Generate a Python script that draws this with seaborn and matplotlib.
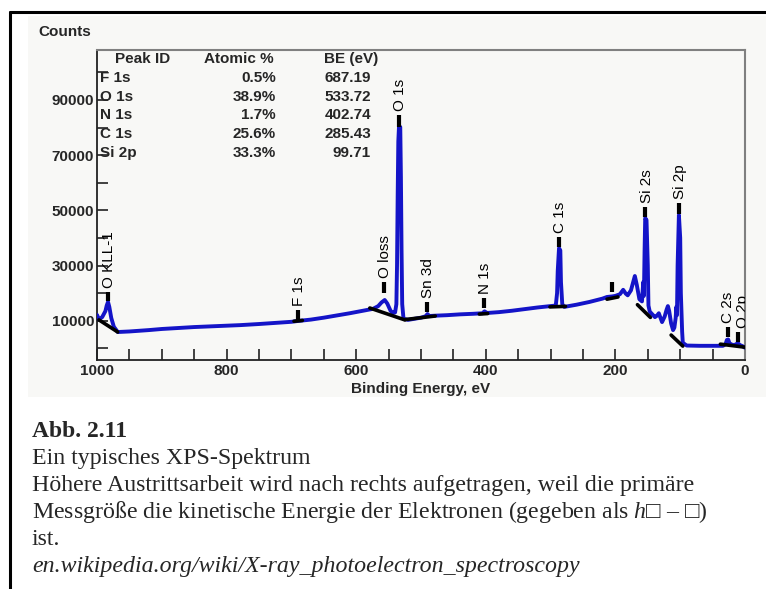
import matplotlib
matplotlib.use("Agg")
import matplotlib.pyplot as plt
from matplotlib.lines import Line2D
from matplotlib.patches import Rectangle
import seaborn as sns
import pandas as pd

# ---------------- data ----------------
binding_energy = [1000, 997, 992, 987, 985, 983, 981, 978, 974, 968, 950, 920, 900, 870, 850, 820, 800, 779,
                  750, 720, 700, 690, 670, 650, 630, 610, 590, 574, 566, 561, 556, 552, 547, 543, 540, 538,
                  537, 536, 535, 534, 532, 531, 530, 529, 527, 520, 510, 500, 493, 490, 487, 480, 460, 440,
                  420, 405, 402, 398, 380, 360, 340, 320, 301, 292, 290, 289, 287, 285, 284, 282, 279, 260,
                  240, 220, 213, 205, 200, 193, 188, 184, 181, 176, 172, 170, 167, 163, 159, 157, 156, 155,
                  154, 152, 150, 149, 147, 143, 139, 136, 133, 130, 128, 124, 121, 119, 117, 114, 111, 109,
                  107, 106, 105, 104, 102, 100, 99, 97, 96, 90, 70, 50, 34, 30, 28, 26, 24, 19, 15, 11, 8,
                  4, 0]
counts = [12100, 10500, 11300, 13500, 15500, 16800, 15000, 11000, 7800, 5900, 6100, 6600, 7000, 7400, 7700,
          8000, 8200, 8400, 8800, 9300, 9600, 9900, 10400, 11100, 11900, 12700, 13600, 14300, 15300, 16600,
          17500, 16200, 13600, 12800, 13000, 16000, 30000, 55000, 75000, 80200, 80200, 62000, 35000, 16000,
          10700, 10300, 10700, 11100, 11600, 12400, 11700, 11800, 12000, 12300, 12500, 12700, 13400, 12800,
          13100, 13600, 14200, 14800, 15300, 15500, 20000, 28000, 36300, 35500, 24000, 16000, 15000, 15800,
          16800, 18000, 18600, 18800, 19000, 19600, 21200, 19800, 19200, 21000, 24500, 26200, 23000, 17800,
          17000, 24000, 19000, 35000, 47200, 46500, 30000, 15500, 13300, 12300, 11300, 11800, 12700, 10800,
          9500, 11500, 14000, 15300, 13500, 9000, 6600, 7500, 11000, 15000, 12000, 30000, 48300, 40000,
          20000, 6000, 2000, 1000, 900, 900, 900, 1500, 3000, 3200, 1800, 1200, 1300, 1900, 1200, 800, 200]

# background (black) segments: segment id, BE, counts
bg_segment = [1, 1, 2, 2, 3, 3, 4, 4, 5, 5, 6, 6, 7, 7, 8, 8, 9, 9, 10, 10]
bg_energy = [997, 968, 696, 683, 579, 525, 525, 478, 410, 397, 301, 277, 213, 196, 166, 146, 114, 96, 38, 0]
bg_counts = [10300, 5900, 9800, 10100, 14600, 10300, 10400, 11700, 12400, 12600, 15000, 15200, 17800, 18600,
             15800, 11200, 4800, 800, 1500, 400]

# peak markers
peak_labels = ["O KLL-1", "F 1s", "O loss", "O 1s", "Sn 3d", "N 1s", "C 1s", "", "Si 2s", "Si 2p", "C 2s", "O 2p"]
peak_energy = [983, 690, 557, 534, 491, 403, 287, 205, 154, 102, 27, 11]
peak_low = [17100, 10250, 20000, 80200, 13100, 14600, 36700, 20400, 47600, 48700, 4100, 2300]
peak_high = [20400, 13900, 24000, 84500, 16800, 18200, 40300, 24000, 51100, 52600, 7700, 5900]

# quantification table
table_header = ["Peak ID", "Atomic %", "BE (eV)"]
table_peaks = ["F 1s", "O 1s", "N 1s", "C 1s", "Si 2p"]
table_atomic = ["0.5%", "38.9%", "1.7%", "25.6%", "33.3%"]
table_be = ["687.19", "533.72", "402.74", "285.43", "99.71"]

x_major = [1000, 800, 600, 400, 200, 0]
y_major = [10000, 30000, 50000, 70000, 90000]

caption_title = "Abb. 2.11"
caption_lines = ["Ein typisches XPS-Spektrum",
                 "Höhere Austrittsarbeit wird nach rechts aufgetragen, weil die primäre",
                 "Messgröße die kinetische Energie der Elektronen (gegeben als $h$□ – □)",
                 "ist."]
caption_source = "en.wikipedia.org/wiki/X-ray_photoelectron_spectroscopy"

# ---------------- style ----------------
sns.set_style("white")
plt.rcParams['font.family'] = ['Liberation Sans', 'DejaVu Sans']
plt.rcParams['mathtext.fontset'] = 'custom'
plt.rcParams['mathtext.rm'] = 'Liberation Serif'
plt.rcParams['mathtext.it'] = 'Liberation Serif:italic'

W, H = 766, 589
fig = plt.figure(figsize=(W / 100, H / 100), dpi=100)
fig.patch.set_facecolor('white')

def fx(px):
    return px / W

def fy(py):
    return 1 - py / H

# faint screenshot background
fig.add_artist(Rectangle((fx(28), fy(397)), fx(766) - fx(28), fy(16) - fy(397),
                         transform=fig.transFigure, facecolor='#f8f8f6', edgecolor='none', zorder=0))

ax = fig.add_axes([fx(97), fy(360), fx(745) - fx(97), fy(50) - fy(360)])
ax.set_facecolor('none')

spec = pd.DataFrame({"BE": binding_energy, "Counts": counts})
sns.lineplot(data=spec, x="BE", y="Counts", ax=ax, color='#1414c8', lw=2.8, sort=False,
             estimator=None, zorder=3)

bg = pd.DataFrame({"seg": bg_segment, "BE": bg_energy, "Counts": bg_counts})
sns.lineplot(data=bg, x="BE", y="Counts", units="seg", estimator=None, ax=ax, color='black',
             lw=2.6, sort=False, zorder=4, legend=False)

ax.vlines(peak_energy, peak_low, peak_high, color='black', lw=3.0, zorder=5)
label_dx = {"C 2s": -1, "O 2p": 3}
for lab, e, top in zip(peak_labels, peak_energy, peak_high):
    if lab:
        ax.annotate(lab, (e, top), xytext=(1 + label_dx.get(lab, 0), 3), textcoords='offset points',
                    rotation=90, ha='center', va='bottom', fontsize=11, color='black',
                    annotation_clip=False, clip_on=True, zorder=6)

ax.set_xlim(1000, 0)
ax.set_ylim(-4240, 108100)

ax.set_xticks(x_major)
ax.set_xticks(list(range(0, 1001, 50)), minor=True)
ax.set_yticks(y_major)
ax.set_yticks(list(range(0, 100001, 20000)), minor=True)
ax.set_xticklabels([str(v) for v in x_major], fontsize=11, fontweight='bold')
ax.set_yticklabels([str(v) for v in y_major], fontsize=11, fontweight='bold')
ax.tick_params(which='both', direction='in', length=8, width=1.2, color='#222222')
ax.tick_params(axis='x', which='both', pad=3, bottom=True, top=False)
ax.tick_params(axis='y', which='both', pad=2, left=True, right=False)

ax.set_xlabel("Binding Energy, eV", fontsize=11, fontweight='bold', labelpad=3)
ax.set_ylabel("")
for side in ['left', 'bottom']:
    ax.spines[side].set_color('#222222')
    ax.spines[side].set_linewidth(1.3)
for side in ['top', 'right']:
    ax.spines[side].set_color('#808080')
    ax.spines[side].set_linewidth(1.5)

fig.text(fx(38), fy(32), "Counts", fontsize=11, fontweight='bold', ha='left', va='center')

# table
fig.text(fx(143), fy(59), table_header[0], fontsize=11, fontweight='bold', ha='center', va='center')
fig.text(fx(239), fy(59), table_header[1], fontsize=11, fontweight='bold', ha='center', va='center')
fig.text(fx(351), fy(59), table_header[2], fontsize=11, fontweight='bold', ha='center', va='center')
row_y = [78, 97, 115, 134, 153]
for ry, p, a, b in zip(row_y, table_peaks, table_atomic, table_be):
    fig.text(fx(100), fy(ry), p, fontsize=11, fontweight='bold', ha='left', va='center')
    fig.text(fx(276), fy(ry), a, fontsize=11, fontweight='bold', ha='right', va='center')
    fig.text(fx(371), fy(ry), b, fontsize=11, fontweight='bold', ha='right', va='center')

# caption
serif = ['Liberation Serif', 'DejaVu Serif']
fig.text(fx(32), fy(437), caption_title, fontsize=17, fontweight='bold', family=serif,
         ha='left', va='baseline')
for i, line in enumerate(caption_lines):
    fig.text(fx(32), fy(464 + 27 * i), line, fontsize=17.2, family=serif, ha='left', va='baseline')
fig.text(fx(32), fy(572), caption_source, fontsize=17.2, family=serif, style='italic',
         ha='left', va='baseline')

# outer frame
fig.add_artist(Line2D([fx(10), fx(10)], [fy(12), fy(600)], transform=fig.transFigure, color='black', lw=2.2))
fig.add_artist(Line2D([fx(10), fx(780)], [fy(12), fy(12)], transform=fig.transFigure, color='black', lw=2.2))

fig.savefig("out.png", dpi=100)
